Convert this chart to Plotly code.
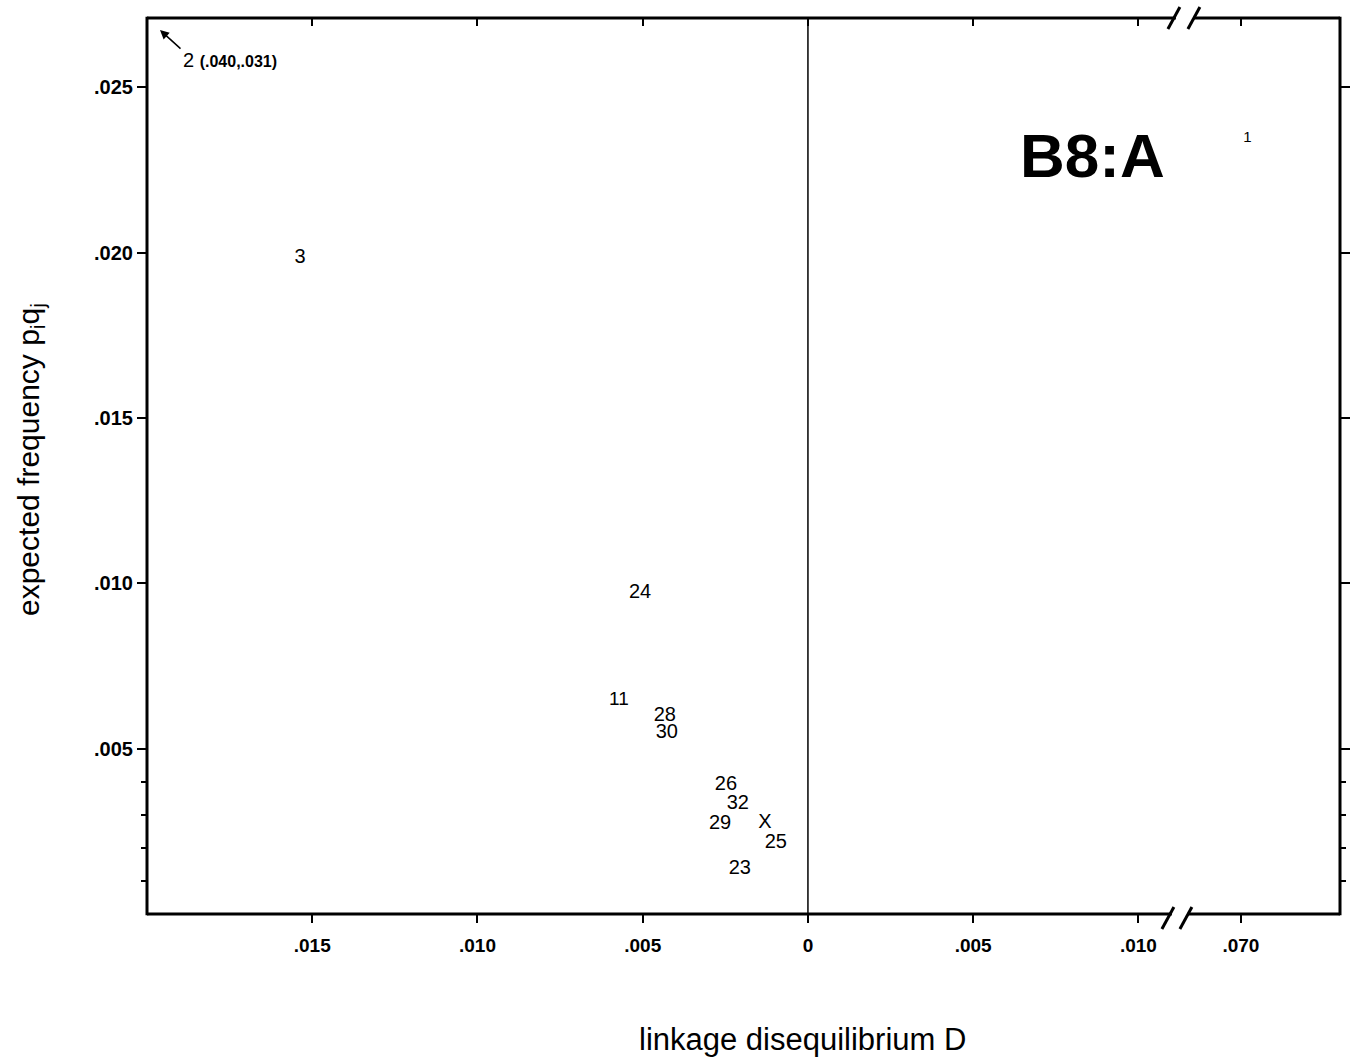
import plotly.graph_objects as go

# ---- data ----
labels = ["3", "24", "11", "28", "30", "26", "32", "29", "X", "25", "23", "1"]
D_vals = [-0.01537, -0.00508, -0.00572, -0.00433, -0.00427, -0.00248,
          -0.00212, -0.00266, -0.00130, -0.00097, -0.00206, 0.0702]
pq_vals = [0.01983, 0.00971, 0.00648, 0.00600, 0.00548, 0.00391,
           0.00334, 0.00273, 0.00276, 0.00216, 0.00137, 0.02346]
label_sizes = [20, 20, 19, 20, 20, 20, 20, 20, 20, 20, 20, 15]

# off-scale point
off_label = "2"
off_D = -0.040
off_pq = 0.031

x_tick_D = [-0.015, -0.010, -0.005, 0.0, 0.005, 0.010, 0.070]
x_tick_text = [".015", ".010", ".005", "0", ".005", ".010", ".070"]
y_tick_vals = [0.005, 0.010, 0.015, 0.020, 0.025]
y_tick_text = [".005", ".010", ".015", ".020", ".025"]
y_minor_vals = [0.001, 0.002, 0.003, 0.004]

panel_title = "B8:A"

# ---- broken x axis transform ----
BREAK_OFFSET = 0.0569  # values beyond the break are shifted left by this amount


def to_u(d):
    return d if d < 0.03 else d - BREAK_OFFSET


XR = [-0.0200, 0.0161]
YR = [0.0, 0.0271]
FONT = "Liberation Sans, Arial, Helvetica, sans-serif"

xu = [to_u(d) for d in D_vals]
xt = [to_u(d) for d in x_tick_D]

fig = go.Figure()
fig.add_trace(go.Scatter(
    x=xu, y=pq_vals, mode="text", text=labels,
    textfont=dict(family=FONT, size=label_sizes, color="black"),
    textposition="middle center", hoverinfo="skip", showlegend=False,
))
# invisible trace to keep the top tick axis alive
fig.add_trace(go.Scatter(x=[XR[0]], y=[YR[0]], xaxis="x2", mode="markers",
                         marker=dict(opacity=0, size=1), showlegend=False, hoverinfo="skip"))

fig.update_layout(
    width=1351, height=1057,
    margin=dict(l=147, r=11, t=18, b=143),
    paper_bgcolor="white", plot_bgcolor="white",
    font=dict(family=FONT, color="black"),
    xaxis=dict(range=XR, showgrid=False, zeroline=False, showline=False,
               tickmode="array", tickvals=xt, ticktext=x_tick_text,
               ticks="outside", ticklen=8, tickwidth=2, tickcolor="black",
               ticklabelstandoff=6,
               tickfont=dict(size=19, weight="bold", family=FONT)),
    xaxis2=dict(range=XR, overlaying="x", side="top", showgrid=False,
                zeroline=False, showline=False, tickmode="array", tickvals=xt,
                ticks="inside", ticklen=8, tickwidth=2, tickcolor="black",
                showticklabels=False),
    yaxis=dict(range=YR, showgrid=False, zeroline=False, showline=False,
               tickmode="array", tickvals=y_tick_vals, ticktext=y_tick_text,
               ticks="outside", ticklen=9, tickwidth=2, tickcolor="black",
               mirror="ticks",
               minor=dict(tickmode="array", tickvals=y_minor_vals, ticks="outside",
                          ticklen=5, tickwidth=2, tickcolor="black", showgrid=False),
               tickfont=dict(size=20, weight="bold", family=FONT)),
)

# ---- frame with axis break ----
def px_u(px):
    return (px - 808) / 33.05 * 0.001

LW = 3
shapes = []
# left & right
shapes.append(dict(type="line", xref="paper", yref="paper", x0=0, x1=0, y0=-0.0015, y1=1.0015,
                   line=dict(color="black", width=LW)))
shapes.append(dict(type="line", xref="paper", yref="paper", x0=1, x1=1, y0=-0.0015, y1=1.0015,
                   line=dict(color="black", width=LW)))
# bottom with gap
shapes.append(dict(type="line", xref="x", yref="paper", x0=XR[0], x1=px_u(1172), y0=0, y1=0,
                   line=dict(color="black", width=LW)))
shapes.append(dict(type="line", xref="x", yref="paper", x0=px_u(1188), x1=XR[1], y0=0, y1=0,
                   line=dict(color="black", width=LW)))
# top with gap
shapes.append(dict(type="line", xref="x", yref="paper", x0=XR[0], x1=px_u(1176), y0=1, y1=1,
                   line=dict(color="black", width=LW)))
shapes.append(dict(type="line", xref="x", yref="paper", x0=px_u(1194), x1=XR[1], y0=1, y1=1,
                   line=dict(color="black", width=LW)))
H = 896.0
# break slashes (bottom)
for a, b in [(1162, 1174), (1180, 1192)]:
    shapes.append(dict(type="line", xref="x", yref="paper", x0=px_u(a), x1=px_u(b),
                       y0=-15 / H, y1=7 / H, line=dict(color="black", width=LW)))
# break slashes (top)
for a, b in [(1168, 1180), (1188, 1200)]:
    shapes.append(dict(type="line", xref="x", yref="paper", x0=px_u(a), x1=px_u(b),
                       y0=1 - 11 / H, y1=1 + 11 / H, line=dict(color="black", width=LW)))
# vertical line at D = 0
shapes.append(dict(type="line", xref="x", yref="paper", x0=0, x1=0, y0=0, y1=1,
                   line=dict(color="black", width=1.5)))
fig.update_layout(shapes=shapes)

# ---- annotations ----
ann = []
# off-scale point 2 indicator
ann.append(dict(xref="paper", yref="paper", x=(160 - 147) / 1193, y=(914 - 30) / H,
                text="", showarrow=True, arrowhead=2, arrowsize=1.2, arrowwidth=1.5,
                arrowcolor="black", ax=22, ay=20))
pair = f"({abs(off_D):.3f},{off_pq:.3f})".replace("0.", ".")
ann.append(dict(xref="paper", yref="paper", x=(181 - 147) / 1193, y=(914 - 60) / H,
                xanchor="left", yanchor="middle", showarrow=False,
                text=f"{off_label} <span style='font-size:16px'><b>{pair}</b></span>",
                font=dict(size=20, family=FONT, color="black")))
# panel title
ann.append(dict(xref="paper", yref="paper", x=(1092 - 147) / 1193, y=(914 - 156) / H,
                xanchor="center", yanchor="middle",
                text=f"<b>{panel_title}</b>", showarrow=False,
                font=dict(size=62, family=FONT, color="black")))
# axis titles
ann.append(dict(xref="paper", yref="paper", x=(802 - 147) / 1193, y=(914 - 1039) / H,
                text="linkage disequilibrium D", showarrow=False,
                xanchor="center", yanchor="middle",
                font=dict(size=31, family=FONT, color="black")))
ann.append(dict(xref="paper", yref="paper", x=(30 - 147) / 1193, y=(914 - 460) / H,
                text="expected frequency p<sub>i</sub>q<sub>j</sub>", showarrow=False,
                textangle=-90, xanchor="center", yanchor="middle",
                font=dict(size=30, family=FONT, color="black")))
fig.update_layout(annotations=ann)

fig.write_html("out.html", config={"displayModeBar": False},
               post_script="document.body.style.margin='0';")
